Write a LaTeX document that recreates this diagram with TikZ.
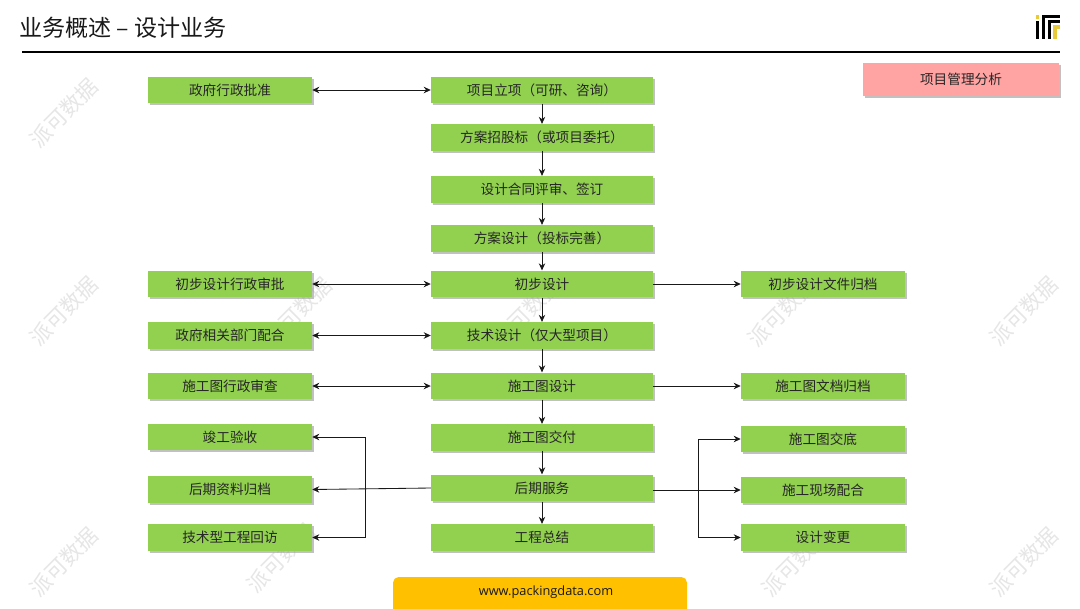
\documentclass[tikz,border=0pt]{standalone}
\usepackage{fontspec}
\setmainfont{Noto Sans CJK SC}
\newfontfamily\latinfont{Open Sans}
\usetikzlibrary{arrows.meta,shadows}
\definecolor{boxgreen}{HTML}{92D050}
\definecolor{boxpink}{HTML}{FFA3A3}
\definecolor{footyellow}{HTML}{FFC000}
\definecolor{markgray}{HTML}{E6E6E6}
\definecolor{logoyellow}{HTML}{E8C93A}
\tikzset{
    taskbox/.style={draw=none, fill=boxgreen, minimum height=19pt, inner sep=0pt, font=\fontsize{9.7}{12}\selectfont, text=black!85,
        drop shadow={shadow xshift=1.4pt, shadow yshift=-1.4pt, fill=black!40, opacity=0.6}},
    sidebox/.style={taskbox, minimum width=116.6pt},
    mainbox/.style={taskbox, minimum width=157.8pt},
    link/.style={draw=black!90, line width=0.6pt, -{Stealth[length=5pt,width=4.6pt]}},
    twolink/.style={link, {Stealth[length=5pt,width=4.6pt]}-{Stealth[length=5pt,width=4.6pt]}},
    watermark/.style={rotate=45, text=markgray, font=\fontsize{15.3}{18}\selectfont},
}
\begin{document}
\begin{tikzpicture}[x=0.025cm, y=-0.025cm]
    \useasboundingbox (0,0) rectangle (1080,608);
    \fill[white] (0,0) rectangle (1080,608);
    % watermarks
    \foreach \wx/\wy in {64/113, 64/311, 64/562, 298/312, 527/312, 782/312, 1024/311, 281/558, 796/562, 1024/562}
        \node[watermark] at (\wx,\wy) {派可数据};
    % title
    \node[anchor=west, inner sep=0pt, font=\fontsize{16.4}{20}\selectfont, text=black!90] (title) at (19,28) {业务概述 – 设计业务};
    \coordinate (ruleL) at (22,52);
    \coordinate (ruleR) at (1060,52);
    \draw[black, line width=1pt] (ruleL) -- (ruleR);
    % logo
    \fill[logoyellow] (1036,15) rectangle (1039,19);
    \fill[black] (1036,21) rectangle (1039,39);
    \fill[black] (1042,15) rectangle (1060,18);
    \fill[black] (1042,18) rectangle (1045,39);
    \fill[black] (1048,20) rectangle (1060,23);
    \fill[black] (1048,23) rectangle (1051,39);
    \fill[logoyellow] (1053,25) rectangle (1060,29);
    \fill[logoyellow] (1053,29) rectangle (1057,39);
    % centre column
    \node[mainbox] (approve) at (542,90) {项目立项（可研、咨询）};
    \node[mainbox] (bid) at (542,137.5) {方案招股标（或项目委托）};
    \node[mainbox] (contract) at (542,189.5) {设计合同评审、签订};
    \node[mainbox] (scheme) at (542,238.5) {方案设计（投标完善）};
    \node[mainbox] (prelim) at (542,284) {初步设计};
    \node[mainbox] (tech) at (542,335.5) {技术设计（仅大型项目）};
    \node[mainbox] (draw) at (542,386) {施工图设计};
    \node[mainbox] (deliver) at (542,437.5) {施工图交付};
    \node[mainbox] (service) at (542,488) {后期服务};
    \node[mainbox] (summary) at (542,537.5) {工程总结};
    % left column
    \node[sidebox] (govok) at (230,90) {政府行政批准};
    \node[sidebox] (prelimok) at (230,284) {初步设计行政审批};
    \node[sidebox] (depts) at (230,335.5) {政府相关部门配合};
    \node[sidebox] (drawok) at (230,386) {施工图行政审查};
    \node[sidebox] (accept) at (230,437) {竣工验收};
    \node[sidebox] (archive) at (230,489.5) {后期资料归档};
    \node[sidebox] (revisit) at (230,537.5) {技术型工程回访};
    % right column
    \node[sidebox] (prelimfile) at (823,284) {初步设计文件归档};
    \node[sidebox] (drawfile) at (823,386) {施工图文档归档};
    \node[sidebox] (handover) at (823,439) {施工图交底};
    \node[sidebox] (site) at (823,490) {施工现场配合};
    \node[sidebox] (change) at (823,537.5) {设计变更};
    % tag and footer
    \node[taskbox, fill=boxpink, minimum width=139.4pt, minimum height=23.5pt] (tag) at (961,79.5) {项目管理分析};
    \fill[footyellow, rounded corners=4pt] (393,577) -- (687,577) -- (687,620) -- (393,620) -- cycle;
    \node[font=\latinfont\fontsize{9.1}{12}\selectfont, text=black!90] (url) at (546,592) {www.packingdata.com};
    % main flow
    \draw[link] (approve) -- (bid);
    \draw[link] (bid) -- (contract);
    \draw[link] (contract) -- (scheme);
    \draw[link] (scheme) -- (prelim);
    \draw[link] (prelim) -- (tech);
    \draw[link] (tech) -- (draw);
    \draw[link] (draw) -- (deliver);
    \draw[link] (deliver) -- (service);
    \draw[link] (service) -- (summary);
    % side links
    \draw[twolink] (govok.east) -- (approve.west);
    \draw[twolink] (prelimok.east) -- (prelim.west);
    \draw[twolink] (depts.east) -- (tech.west);
    \draw[twolink] (drawok.east) -- (draw.west);
    \draw[link] (prelim.east) -- (prelimfile.west);
    \draw[link] (draw.east) -- (drawfile.west);
    % branches after service
    \draw[link] (service.west) -- (archive.east);
    \coordinate (busL) at (365,489);
    \draw[link] (busL) |- (accept.east);
    \draw[link] (busL) |- (revisit.east);
    \draw[link] (service.east |- site.west) -- (site.west);
    \coordinate (busR) at (698,490);
    \draw[link] (busR) |- (handover.west);
    \draw[link] (busR) |- (change.west);
\end{tikzpicture}
\end{document}
